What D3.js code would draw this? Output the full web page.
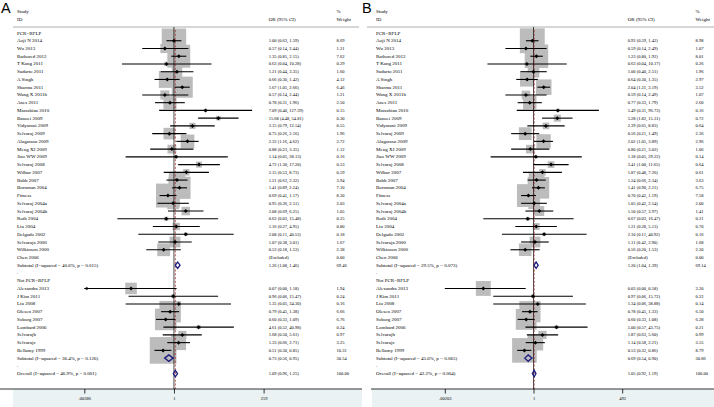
<!DOCTYPE html>
<html><head><meta charset="utf-8">
<script src="https://cdn.jsdelivr.net/npm/d3@7"></script>
<style>body{margin:0;background:#fff}svg{display:block}</style>
</head><body><div id="c"></div>
<script>
// ---------- data ----------
const group1 = "PCR−RFLP";
const group2 = "Not PCR−RFLP";
const studies1 = ["Aoji N 2014","Wu 2013","Rathored 2012","T Kang 2011","Sudarto 2011","A Singh","Sharma 2011","Wang X 2011b","Anes 2011","Marashian 2010","Banoei 2009","Vidyarani 2009","Selvaraj 2009","Alagarasu 2009","Meng XJ 2009","Jiao WW 2009","Selvaraj 2008","Wilbur 2007","Babb 2007","Bornman 2004","Fitness","Selvaraj 2004a","Selvaraj 2004b","Roth 2004","Liu 2004","Delgado 2002","Selvaraja 2000","Wilkinson 2000","Chen 2006"];
const studies2 = ["Alexandra 2013","J Kim 2011","Liu 2008","Olesen 2007","Soborg 2007","Lombard 2006","Selvarajb","Selvarajc","Bellamy 1999"];

// Panel A
const orA = [1.00,0.57,1.35,0.63,1.21,0.66,1.67,0.57,0.78,7.09,15.68,3.15,0.75,2.32,0.88,1.14,4.72,2.15,1.21,1.41,0.69,0.95,2.08,0.62,1.16,2.08,1.07,0.53,null,
             0.07,0.96,1.35,0.79,0.60,4.61,1.68,1.33,0.51];
const loA = [0.63,0.14,0.85,0.04,0.44,0.30,1.05,0.14,0.31,0.40,4.48,0.79,0.26,1.16,0.23,0.05,1.30,0.53,0.63,0.89,0.41,0.36,0.69,0.03,0.27,0.11,0.38,0.18,null,
             0.00,0.06,0.05,0.45,0.33,0.52,0.50,0.66,0.30];
const hiA = [1.59,2.44,2.15,10.28,3.35,1.42,2.66,2.44,1.96,127.39,54.81,12.54,2.16,4.62,3.35,28.13,17.20,8.73,2.32,2.24,1.17,2.51,6.25,15.48,4.95,40.53,3.01,1.53,null,
             1.18,15.47,34.30,1.38,1.09,40.98,5.61,2.71,0.85];
const wA  = [8.69,1.21,7.62,0.29,1.60,4.12,6.46,1.21,2.50,0.15,0.30,0.55,1.96,2.72,1.12,0.16,0.53,0.59,3.94,7.10,8.30,2.03,1.05,0.25,0.80,0.18,1.67,2.38,0.00,
             1.94,0.24,0.16,6.66,6.76,0.24,0.97,3.25,10.31];
const sumLabelsA = ["Subtotal  (I−squared = 40.6%, p = 0.015)","Subtotal  (I−squared = 36.4%, p = 0.126)","Overall  (I−squared = 46.9%, p = 0.001)"];
const sumOrA = [1.26,0.73,1.09];
const sumLoA = [1.08,0.56,0.96];
const sumHiA = [1.46,0.95,1.25];
const sumWA  = [69.46,30.54,100.00];
const tickValsA = [1/259,1,259];
const tickLabelsA = [".00386","1","259"];

// Panel B
const orB = [0.92,0.59,1.23,0.63,1.00,0.64,2.04,0.59,0.77,5.49,5.28,2.39,0.56,2.02,0.80,1.18,3.41,1.87,1.24,1.41,0.70,1.05,1.50,0.67,1.21,2.10,1.11,0.56,null,
             0.03,0.97,1.34,0.78,0.60,5.00,1.87,1.14,0.53];
const loB = [0.59,0.14,0.80,0.04,0.40,0.30,1.31,0.14,0.33,0.31,1.82,0.65,0.21,1.05,0.21,0.05,1.00,0.48,0.66,0.90,0.42,0.42,0.57,0.03,0.28,0.11,0.42,0.20,null,
             0.00,0.06,0.06,0.45,0.33,0.57,0.63,0.58,0.32];
const hiB = [1.42,2.49,1.92,10.17,2.51,1.35,3.19,2.49,1.79,96.73,15.31,8.83,1.49,3.89,3.02,29.22,11.65,7.26,2.34,2.21,1.19,2.54,3.97,16.47,5.13,40.92,2.90,1.53,null,
             0.58,15.72,38.88,1.33,1.08,43.75,5.60,2.21,0.86];
const wB  = [8.98,1.07,8.01,0.26,1.96,2.97,3.52,1.07,2.60,0.16,0.72,0.64,2.36,2.96,1.06,0.14,0.64,0.61,3.63,6.75,7.58,2.00,1.41,0.21,0.70,0.16,1.68,2.30,0.00,
             3.20,0.22,0.14,6.50,6.28,0.21,0.99,3.55,8.79];
const sumLabelsB = ["Subtotal  (I−squared = 29.5%, p = 0.073)","Subtotal  (I−squared = 45.6%, p = 0.065)","Overall  (I−squared = 42.2%, p = 0.004)"];
const sumOrB = [1.20,0.69,1.05];
const sumLoB = [1.04,0.54,0.92];
const sumHiB = [1.39,0.90,1.19];
const sumWB  = [69.14,30.86,100.00];
const tickValsB = [1/492,1,492];
const tickLabelsB = [".00203","1","492"];

// ---------- drawing ----------
const W = 714, H = 407;
const svg = d3.select("#c").append("svg").attr("width", W).attr("height", H);
const f2 = d3.format(".2f");
const serif = "'Liberation Serif','Times New Roman',serif";
const rowY = d3.scaleLinear().domain([0, 44]).range([33, 373.6]);

function drawPanel(p) {
  const g = svg.append("g").attr("transform", `translate(${p.dx},0)`);
  const x = d3.scaleLog().domain([p.ticks[0], p.ticks[2]]).range(p.range);
  const [dmin, dmax] = x.domain();

  // bottom band
  g.append("rect").attr("x", p.band[0]).attr("y", 389).attr("width", p.band[1]-p.band[0]).attr("height", H-389).attr("fill", "#eaf2f3");

  // panel letter
  svg.append("text").attr("x", p.letterX).attr("y", 12.8).attr("font-family", "'Liberation Sans',Arial,sans-serif")
    .attr("font-size", 14.5).text(p.letter);

  // headers
  const hdr = (t, xx, yy) => g.append("text").attr("x", xx).attr("y", yy).attr("dominant-baseline", "central")
      .attr("font-family", serif).attr("font-size", 5).text(t);
  hdr("Study", 17, 11); hdr("ID", 17, 19);
  hdr("OR (95% CI)", 268.7, 19);
  hdr("%", 336.5, 11); hdr("Weight", 336.5, 19);
  g.append("line").attr("x1", p.hline[0]).attr("x2", p.hline[1]).attr("y1", 27).attr("y2", 27)
    .attr("stroke", "#9a9a9a").attr("stroke-width", 0.8);

  // build rows
  const rows = [];
  rows.push({type: "label", text: group1, i: 0});
  studies1.forEach((s, k) => rows.push({type: "study", text: s, j: k, i: 1 + k}));
  rows.push({type: "sum", text: p.sumLabels[0], j: 0, i: 30});
  rows.push({type: "label", text: ".", i: 31});
  rows.push({type: "label", text: group2, i: 32});
  studies2.forEach((s, k) => rows.push({type: "study", text: s, j: studies1.length + k, i: 33 + k}));
  rows.push({type: "sum", text: p.sumLabels[1], j: 1, i: 42});
  rows.push({type: "label", text: ".", i: 43});
  rows.push({type: "sum", text: p.sumLabels[2], j: 2, i: 44});

  const studyRows = rows.filter(r => r.type === "study" && p.or[r.j] != null);

  // boxes
  g.selectAll("rect.box").data(studyRows).join("rect").attr("class", "box")
    .attr("x", r => x(p.or[r.j]) - 4.15*Math.sqrt(p.w[r.j]))
    .attr("y", r => rowY(r.i) - 4.15*Math.sqrt(p.w[r.j]))
    .attr("width", r => 8.3*Math.sqrt(p.w[r.j]))
    .attr("height", r => 8.3*Math.sqrt(p.w[r.j]))
    .attr("fill", "#bcbcbc");

  // null line and overall line
  g.append("line").attr("x1", x(1)).attr("x2", x(1)).attr("y1", 27).attr("y2", 389)
    .attr("stroke", "#000").attr("stroke-width", 0.7);
  g.append("line").attr("x1", x(p.sumOr[2])).attr("x2", x(p.sumOr[2])).attr("y1", 30).attr("y2", 389)
    .attr("stroke", "#b03a3a").attr("stroke-width", 0.8).attr("stroke-dasharray", "2.2,1.6");

  // CI lines
  g.selectAll("line.ci").data(studyRows).join("line").attr("class", "ci")
    .attr("x1", r => x(Math.max(p.lo[r.j], dmin)))
    .attr("x2", r => x(Math.min(p.hi[r.j], dmax)))
    .attr("y1", r => rowY(r.i)).attr("y2", r => rowY(r.i))
    .attr("stroke", "#000").attr("stroke-width", 1.1);
  // arrows for truncated CIs
  g.selectAll("path.arr").data(studyRows.filter(r => p.arrows && p.lo[r.j] < dmin)).join("path").attr("class", "arr")
    .attr("d", r => { const xx = x(dmin), yy = rowY(r.i); return `M${xx},${yy}L${xx+3.2},${yy-1.7}L${xx+3.2},${yy+1.7}Z`; })
    .attr("fill", "#000");
  // point estimates
  g.selectAll("path.pt").data(studyRows).join("path").attr("class", "pt")
    .attr("d", r => { const xx = x(p.or[r.j]), yy = rowY(r.i); return `M${xx-2},${yy}L${xx},${yy-2}L${xx+2},${yy}L${xx},${yy+2}Z`; })
    .attr("fill", "#000");

  // summary diamonds
  const sumRows = rows.filter(r => r.type === "sum");
  g.selectAll("path.dia").data(sumRows).join("path").attr("class", "dia")
    .attr("d", r => { const yy = rowY(r.i), a = x(p.sumLo[r.j]), b = x(p.sumOr[r.j]), c = x(p.sumHi[r.j]);
      return `M${a},${yy}L${b},${yy-3.2}L${c},${yy}L${b},${yy+3.2}Z`; })
    .attr("fill", "none").attr("stroke", "#1c1c80").attr("stroke-width", 1.3);

  // texts
  g.selectAll("text.lab").data(rows).join("text").attr("class", "lab")
    .attr("x", 17).attr("y", r => rowY(r.i)).attr("dominant-baseline", "central")
    .attr("font-family", serif).attr("font-size", 5).text(r => r.text);
  const numRows = rows.filter(r => r.type !== "label");
  g.selectAll("text.ci").data(numRows).join("text").attr("class", "ci")
    .attr("x", 268.7).attr("y", r => rowY(r.i)).attr("dominant-baseline", "central")
    .attr("font-family", serif).attr("font-size", 4.5)
    .text(r => {
      if (r.type === "sum") return `${f2(p.sumOr[r.j])} (${f2(p.sumLo[r.j])}, ${f2(p.sumHi[r.j])})`;
      if (p.or[r.j] == null) return "(Excluded)";
      return `${f2(p.or[r.j])} (${f2(p.lo[r.j])}, ${f2(p.hi[r.j])})`;
    });
  g.selectAll("text.wt").data(numRows).join("text").attr("class", "wt")
    .attr("x", 336.5).attr("y", r => rowY(r.i)).attr("dominant-baseline", "central")
    .attr("font-family", serif).attr("font-size", 4.5)
    .text(r => r.type === "sum" ? f2(p.sumW[r.j]) : f2(p.w[r.j]));

  // axis
  g.append("line").attr("x1", p.axisLine[0]).attr("x2", p.axisLine[1]).attr("y1", 389).attr("y2", 389)
    .attr("stroke", "#000").attr("stroke-width", 0.8);
  const ax = d3.axisBottom(x).tickValues(p.ticks).tickFormat((d, k) => p.tickLabels[k]).tickSize(4.5).tickPadding(3);
  const axg = g.append("g").attr("transform", "translate(0,389)").call(ax);
  axg.select(".domain").remove();
  axg.selectAll("line").attr("stroke-width", 0.8);
  axg.selectAll("text").attr("font-family", serif).attr("font-size", 4.5).attr("fill", "#000");
}

drawPanel({dx: 0, letter: "A", letterX: 1, range: [84.3, 263.6], ticks: tickValsA, tickLabels: tickLabelsA,
  or: orA, lo: loA, hi: hiA, w: wA, sumLabels: sumLabelsA, sumOr: sumOrA, sumLo: sumLoA, sumHi: sumHiA, sumW: sumWA,
  band: [13, 362], axisLine: [0, 362], hline: [13, 359], arrows: true});
drawPanel({dx: 359, letter: "B", letterX: 362, range: [444.8 - 359, 622.2 - 359], ticks: tickValsB, tickLabels: tickLabelsB,
  or: orB, lo: loB, hi: hiB, w: wB, sumLabels: sumLabelsB, sumOr: sumOrB, sumLo: sumLoB, sumHi: sumHiB, sumW: sumWB,
  band: [13, 355], axisLine: [12, 355], hline: [8, 355], arrows: false});
</script>
</body></html>
